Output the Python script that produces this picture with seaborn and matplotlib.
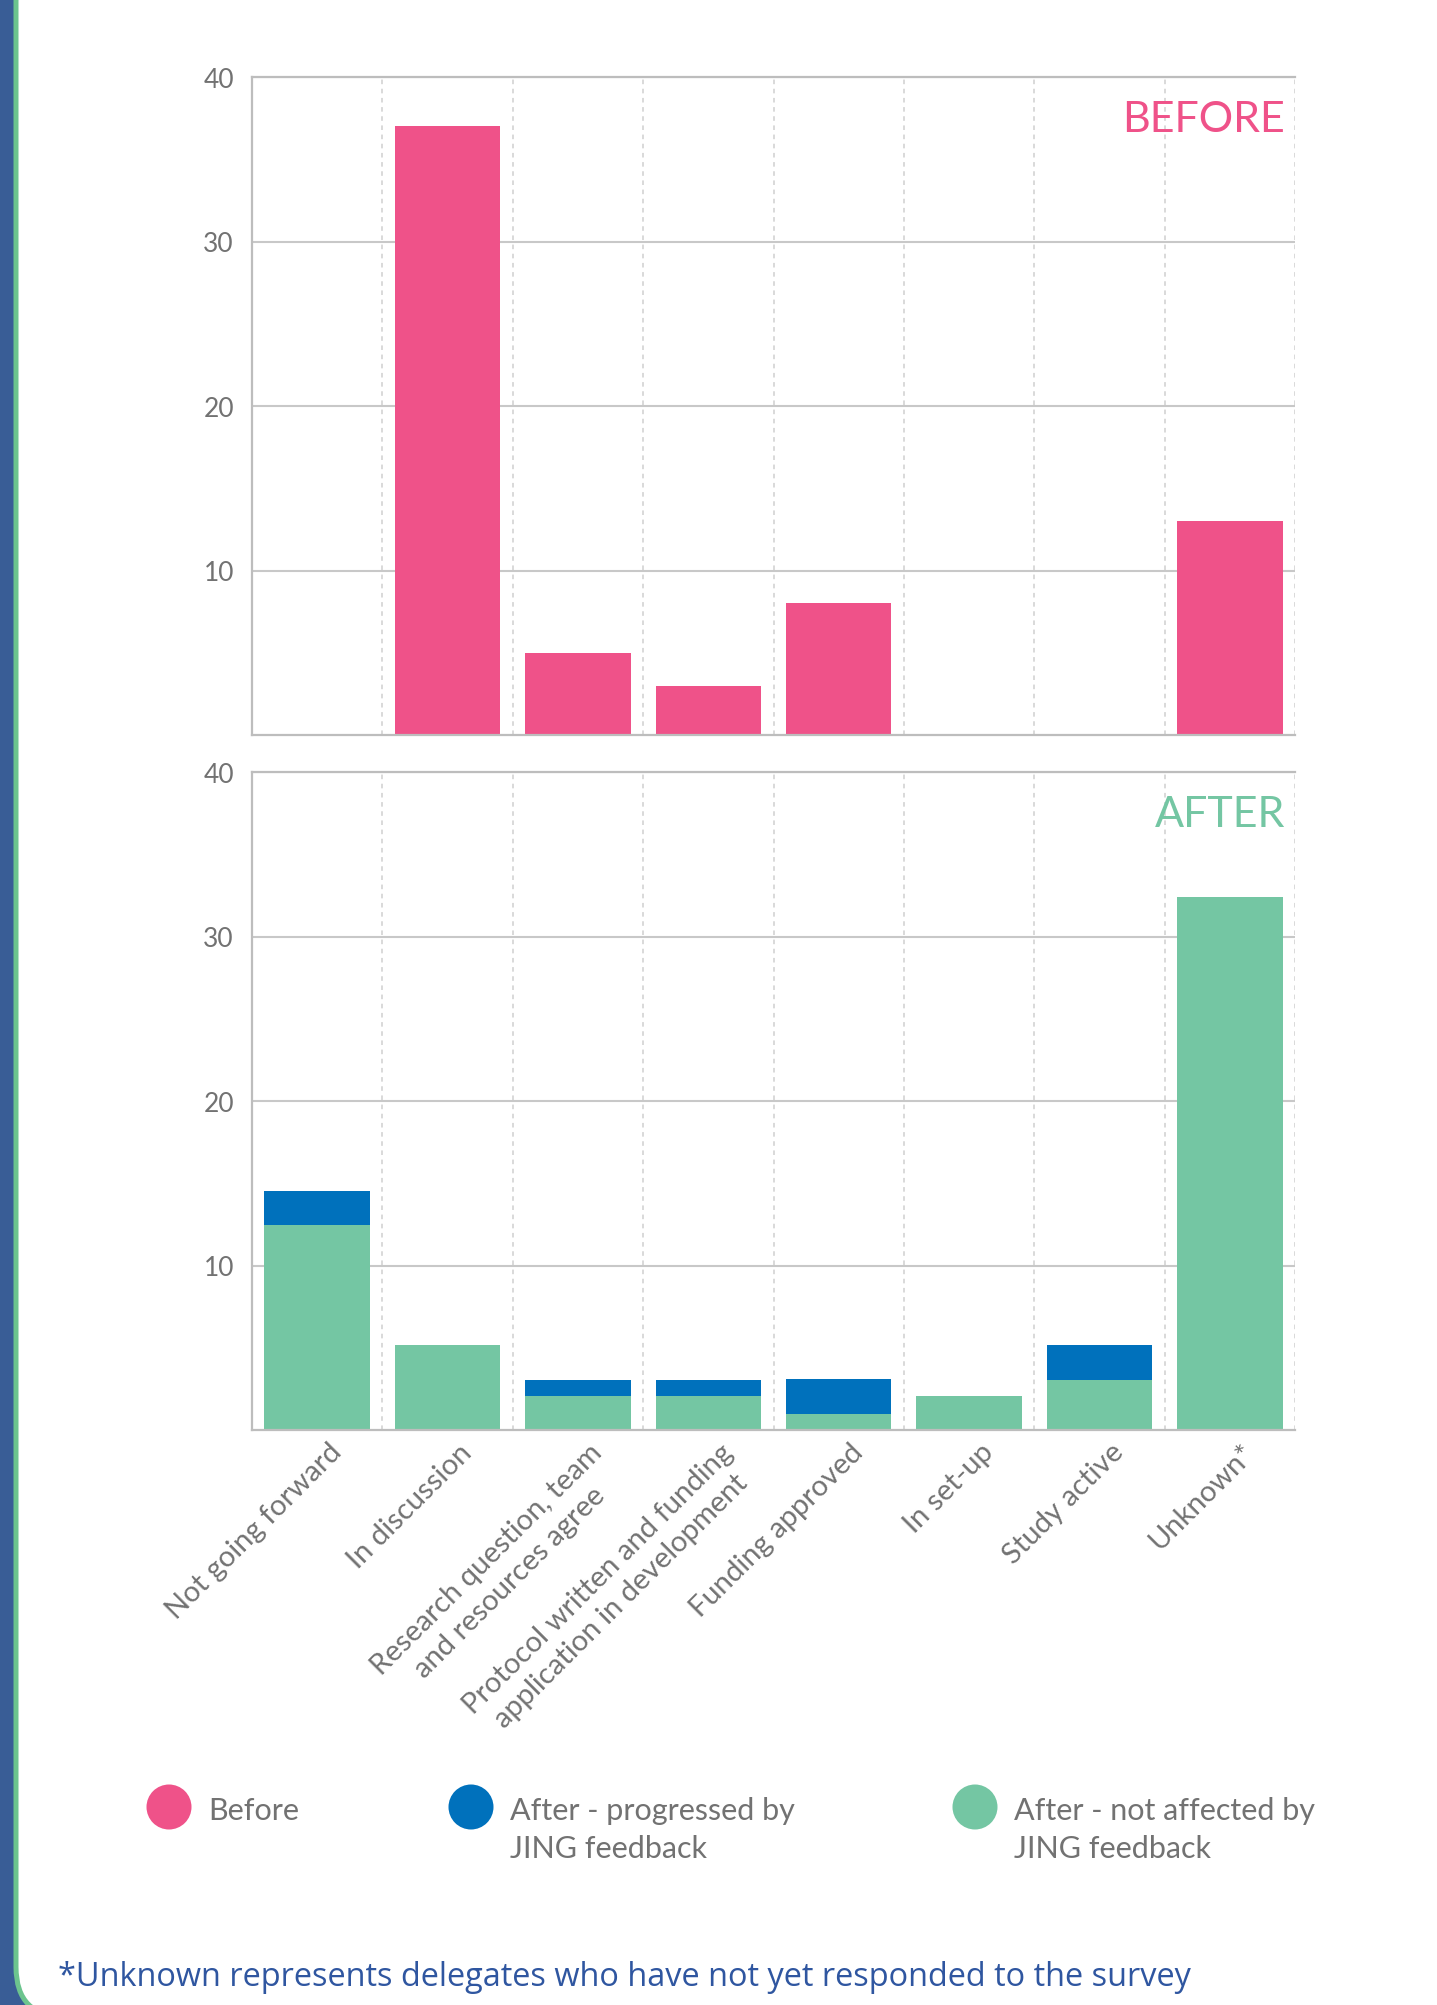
import numpy as np
import pandas as pd
import matplotlib
matplotlib.use("Agg")
import matplotlib.pyplot as plt
import seaborn as sns
from matplotlib.patches import FancyBboxPatch
from matplotlib.transforms import IdentityTransform, ScaledTranslation

# ---------------- data ----------------
categories = [
    "Not going forward",
    "In discussion",
    "Research question, team\nand resources agree",
    "Protocol written and funding\napplication in development",
    "Funding approved",
    "In set-up",
    "Study active",
    "Unknown*",
]
before = [0, 37, 5, 3, 8, 0, 0, 13]
after_not_affected = [12.45, 5.15, 2.05, 2.05, 1.0, 2.05, 3.05, 32.4]
after_progressed = [2.1, 0, 1.0, 1.0, 2.1, 0, 2.1, 0]
yticks = [10, 20, 30, 40]
legend_labels = ["Before", "After - progressed by\nJING feedback",
                 "After - not affected by\nJING feedback"]
panel_titles = ["BEFORE", "AFTER"]
footnote = "*Unknown represents delegates who have not yet responded to the survey"

# ---------------- style ----------------
PINK = "#EF5289"
BLUE = "#0071BC"
GREEN = "#74C6A3"
FRAME_BLUE = "#395D96"
GRID = "#C8C8C8"
SPINE = "#BDBDBD"
TXT = "#727272"

sns.set_theme(style="white")
plt.rcParams["font.family"] = ["Lato", "DejaVu Sans"]

W, H = 1437, 2006
fig = plt.figure(figsize=(W / 100, H / 100), dpi=100)
fig.patch.set_facecolor(FRAME_BLUE)

frame = FancyBboxPatch((16, -12), W + 18 - 16, H + 60,
                       boxstyle="round,pad=0,rounding_size=50",
                       transform=IdentityTransform(), facecolor="white",
                       edgecolor="#6CC48E", lw=3.6, zorder=-5)
fig.add_artist(frame)

df = pd.DataFrame({
    "stage": categories,
    "before": before,
    "not_affected": after_not_affected,
    "progressed": after_progressed,
})
df["after_total"] = df["not_affected"] + df["progressed"]

ax1 = fig.add_axes([252 / W, 1 - 736 / H, 1043 / W, 658 / H])
ax2 = fig.add_axes([252 / W, 1 - 1431 / H, 1043 / W, 658 / H])

sns.barplot(data=df, x="stage", y="before", order=categories, color=PINK,
            saturation=1, width=0.81, linewidth=0, ax=ax1)
sns.barplot(data=df, x="stage", y="after_total", order=categories, color=BLUE,
            saturation=1, width=0.81, linewidth=0, ax=ax2)
sns.barplot(data=df, x="stage", y="not_affected", order=categories, color=GREEN,
            saturation=1, width=0.81, linewidth=0, ax=ax2)

n = len(categories)
for ax in (ax1, ax2):
    ax.set_facecolor("white")
    ax.set_xlim(-0.5, n - 0.5)
    ax.set_ylim(0, 40)
    ax.set_yticks(yticks)
    ax.set_yticklabels([str(t) for t in yticks])
    ax.set_xticks(np.arange(n) + 0.5, minor=True)
    ax.set_axisbelow(True)
    ax.grid(False)
    ax.grid(axis="y", which="major", color=GRID, lw=1.5)
    ax.grid(axis="x", which="minor", color="#CFCFCF", lw=1.1, ls=(0, (3, 3)))
    ax.tick_params(which="both", length=0)
    ax.tick_params(axis="y", pad=13, labelsize=19, labelcolor=TXT)
    for s in ("left", "bottom", "top"):
        ax.spines[s].set_visible(True)
        ax.spines[s].set_color(SPINE)
        ax.spines[s].set_linewidth(1.6)
    ax.spines["right"].set_visible(False)
    ax.set_xlabel("")
    ax.set_ylabel("")

ax1.set_xticks(np.arange(n))
ax1.set_xticklabels([])

ax2.set_xticks(np.arange(n))
ax2.set_xticklabels(categories, rotation=45, ha="right", va="top",
                    rotation_mode="anchor", multialignment="center",
                    fontsize=21, color=TXT, linespacing=1.3)
ax2.tick_params(axis="x", pad=6)
shift = ScaledTranslation(11 / 100, 0, fig.dpi_scale_trans)
for lab in ax2.get_xticklabels():
    lab.set_transform(lab.get_transform() + shift)

ax1.text(1 - 10 / 1043, 1 - 42 / 658, panel_titles[0], transform=ax1.transAxes,
         ha="right", va="center", fontsize=31, color=PINK)
ax2.text(1 - 10 / 1043, 1 - 42 / 658, panel_titles[1], transform=ax2.transAxes,
         ha="right", va="center", fontsize=31, color=GREEN)

# ---------------- legend & footnote (pixel overlay) ----------------
lax = fig.add_axes([0, 0, 1, 1], zorder=3)
lax.set_xlim(0, W)
lax.set_ylim(H, 0)
lax.axis("off")
leg_x = [169, 471, 975]
leg_colors = [PINK, BLUE, GREEN]
lax.scatter(leg_x, [1808] * 3, s=1050, c=leg_colors, linewidths=0)
for x, lab in zip(leg_x, legend_labels):
    lax.text(x + 39, 1820, lab, ha="left", va="top", fontsize=22,
             color=TXT, linespacing=1.42,
             transform=lax.transData + ScaledTranslation(0, 0.225, fig.dpi_scale_trans))

lax.text(58, 1978, footnote, ha="left", va="center", fontsize=23.4,
         color="#2F56A0", family=["Open Sans", "DejaVu Sans"])

fig.savefig("out.png", dpi=100, facecolor=fig.get_facecolor())
